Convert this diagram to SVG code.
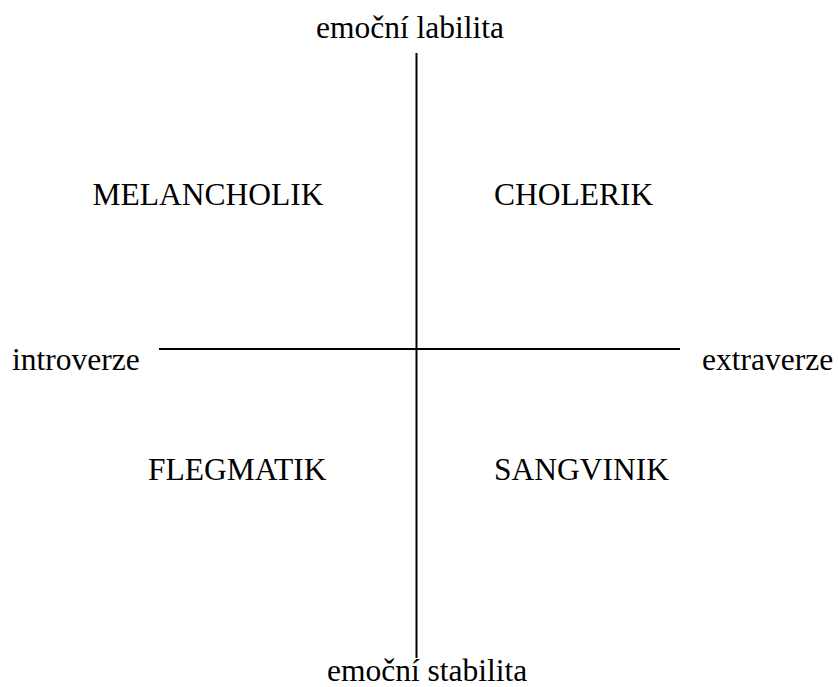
<svg xmlns="http://www.w3.org/2000/svg" width="838" height="687" viewBox="0 0 838 687">
<style>
text{font-family:"Liberation Serif","Times New Roman",serif;font-size:31.5px;fill:#000}
.ax{stroke:#000;stroke-width:2;fill:none}
</style>
<rect width="838" height="687" fill="#fff"/>
<g id="connectors">
<line class="ax" x1="416.5" y1="53" x2="416.5" y2="658"/>
<line class="ax" x1="159" y1="349" x2="680" y2="349"/>
</g>
<g id="top"><text x="316" y="38">emoční labilita</text></g>
<g id="bottom"><text x="327" y="681">emoční stabilita</text></g>
<g id="left"><text x="12" y="370">introverze</text></g>
<g id="right"><text x="702" y="370">extraverze</text></g>
<g id="melancholik"><text x="92.5" y="205">MELANCHOLIK</text></g>
<g id="cholerik"><text x="494" y="205">CHOLERIK</text></g>
<g id="flegmatik"><text x="148" y="480">FLEGMATIK</text></g>
<g id="sangvinik"><text x="494" y="480">SANGVINIK</text></g>
</svg>
